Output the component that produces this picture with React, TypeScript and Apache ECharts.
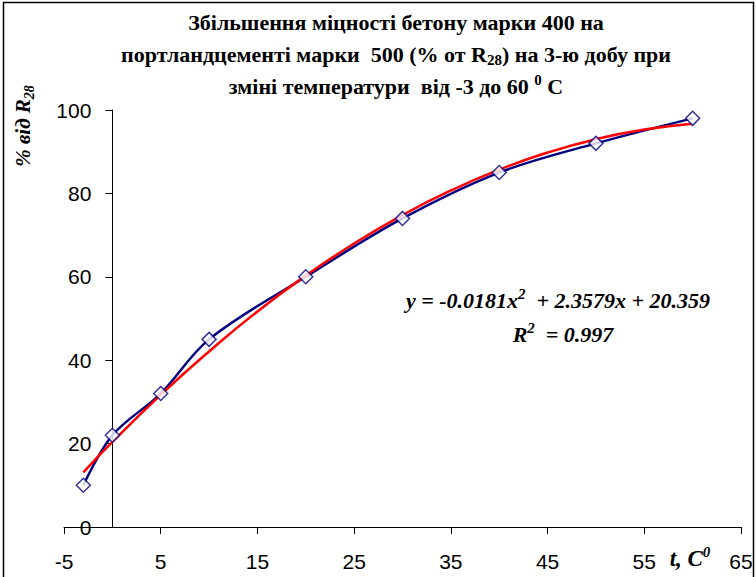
import React, { useEffect, useRef } from "react";
import * as echarts from "echarts";

const pointX = [-3, 0, 5, 10, 20, 30, 40, 50, 60];
const pointY = [10, 22, 32, 45, 60, 74, 85, 92, 98];

// red trend line
const trendX = [-3, 0, 5, 10, 15, 20, 25, 30, 35, 40, 45, 50, 55, 60];
const trendY = [13.1, 20.4, 31.7, 42.1, 51.7, 60.3, 68.0, 74.8, 80.7, 85.7, 89.8, 93.0, 95.3, 96.7];

const xTicks = [-5, 5, 15, 25, 35, 45, 55, 65];
const yTicks = [0, 20, 40, 60, 80, 100];

const titleLines = [
  "Збільшення міцності бетону марки 400 на",
  "портландцементі марки  500 (% от R{sub|28}) на 3-ю добу при",
  "зміні температури  від -3 до 60 {sup|0} C",
];
const equationText = "y = -0.0181x{sup|2}  + 2.3579x + 20.359";
const r2Text = "R{sup|2}  = 0.997";
const yName = "% від R{sub|28}";
const xName = "t, C{sup|0}";

const SERIF = "'Liberation Serif', 'Times New Roman', serif";
const SANS = "'Liberation Sans', Arial, sans-serif";

const GRID_LEFT = 64;
const GRID_RIGHT = 15;
const X_MIN = -5;
const X_MAX = 65;

export default function App() {
  const ref = useRef<HTMLDivElement>(null);
  useEffect(() => {
    if (!ref.current) return;
    const chart = echarts.init(ref.current, undefined, { renderer: "svg" });
    const richTitle = {
      sub: { fontSize: 15, lineHeight: 15, verticalAlign: "bottom", fontWeight: "bold", fontFamily: SERIF, fill: "#000" },
      sup: { fontSize: 15, lineHeight: 15, verticalAlign: "top", fontWeight: "bold", fontFamily: SERIF, fill: "#000" },
    };
    const richItalic = {
      sub: { fontSize: 14, lineHeight: 14, verticalAlign: "bottom", fontWeight: "bold", fontStyle: "italic", fontFamily: SERIF, fill: "#000" },
      sup: { fontSize: 15, lineHeight: 15, verticalAlign: "top", fontWeight: "bold", fontStyle: "italic", fontFamily: SERIF, fill: "#000" },
    };
    const titleEls = titleLines.map((t, i) => ({
      type: "text",
      x: 396,
      y: 22 + i * 32,
      style: {
        text: t,
        font: `bold 22px ${SERIF}`,
        fill: "#000",
        align: "center",
        verticalAlign: "middle",
        lineHeight: 27,
        rich: richTitle,
      },
    }));
    const plotW = 756 - GRID_LEFT - GRID_RIGHT;
    const zeroOffset = (plotW * (0 - X_MIN)) / (X_MAX - X_MIN);
    chart.setOption({
      animation: false,
      backgroundColor: "#fff",
      grid: { left: GRID_LEFT, right: GRID_RIGHT, top: 110, bottom: 50, containLabel: false },
      xAxis: {
        type: "value",
        min: X_MIN,
        max: X_MAX,
        splitLine: { show: false },
        axisLine: { onZero: false, lineStyle: { color: "#000", width: 1 } },
        axisTick: { show: true, length: 7, customValues: xTicks, lineStyle: { color: "#000" } },
        axisLabel: {
          customValues: xTicks,
          color: "#000",
          fontSize: 21,
          fontFamily: SANS,
          margin: 24,
        },
      },
      yAxis: {
        type: "value",
        min: 0,
        max: 100,
        interval: 20,
        offset: -zeroOffset,
        splitLine: { show: false },
        axisLine: { show: true, onZero: false, lineStyle: { color: "#000", width: 1 } },
        axisTick: { show: true, length: 7, customValues: yTicks, lineStyle: { color: "#000" } },
        axisLabel: { color: "#000", fontSize: 21, fontFamily: SANS, margin: 21 },
      },
      series: [
        {
          type: "line",
          data: pointX.map((x, i) => [x, pointY[i]]),
          smooth: 0.35,
          showSymbol: false,
          lineStyle: { color: "#000080", width: 2.5 },
          z: 2,
        },
        {
          type: "line",
          data: trendX.map((x, i) => [x, trendY[i]]),
          smooth: true,
          showSymbol: false,
          lineStyle: { color: "#ff0000", width: 2.5 },
          z: 3,
        },
        {
          type: "scatter",
          data: pointX.map((x, i) => [x, pointY[i]]),
          symbol: "diamond",
          symbolSize: 14,
          itemStyle: { color: "#fff", borderColor: "#000080", borderWidth: 1.5 },
          z: 4,
        },
      ],
      graphic: [
        {
          type: "rect",
          shape: { x: 3.5, y: 2.5, width: 750, height: 600 },
          style: { fill: "none", stroke: "#000", lineWidth: 1.5 },
          silent: true,
        },
        ...titleEls,
        {
          type: "text",
          x: 558,
          y: 300,
          style: {
            text: equationText,
            font: `italic bold 22px ${SERIF}`,
            fill: "#000",
            align: "center",
            verticalAlign: "middle",
            lineHeight: 27,
            rich: richItalic,
          },
        },
        {
          type: "text",
          x: 563,
          y: 334,
          style: {
            text: r2Text,
            font: `italic bold 22px ${SERIF}`,
            fill: "#000",
            align: "center",
            verticalAlign: "middle",
            lineHeight: 27,
            rich: richItalic,
          },
        },
        {
          type: "text",
          x: 23,
          y: 126,
          rotation: Math.PI / 2,
          style: {
            text: yName,
            font: `italic bold 21px ${SERIF}`,
            fill: "#000",
            align: "center",
            verticalAlign: "middle",
            lineHeight: 26,
            rich: richItalic,
          },
        },
        {
          type: "text",
          x: 690,
          y: 558,
          style: {
            text: xName,
            font: `italic bold 23px ${SERIF}`,
            fill: "#000",
            align: "center",
            verticalAlign: "middle",
            lineHeight: 27,
            rich: richItalic,
          },
        },
      ],
    });
    return () => chart.dispose();
  }, []);
  return (
    <div
      ref={ref}
      style={{ position: "fixed", left: 0, top: 0, width: 756, height: 577, background: "#fff" }}
    />
  );
}
